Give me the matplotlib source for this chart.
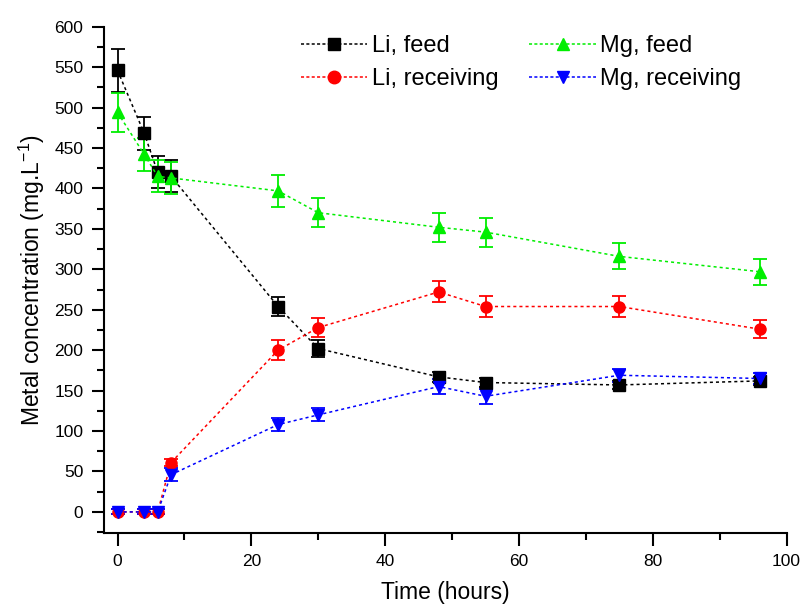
import matplotlib
matplotlib.use('Agg')
from matplotlib import pyplot as plt
from matplotlib.lines import Line2D
from matplotlib.ticker import MultipleLocator

plt.rcParams['font.family'] = ['Liberation Sans', 'DejaVu Sans']
plt.rcParams['mathtext.fontset'] = 'custom'
plt.rcParams['mathtext.rm'] = 'Liberation Sans'
plt.rcParams['mathtext.it'] = 'Liberation Sans:italic'

# sampling times (hours)
time = [0, 4, 6, 8, 24, 30, 48, 55, 75, 96]

li_feed = [546, 468, 420, 415, 254, 202, 167, 160, 157, 162]
li_feed_err = [27, 20, 20, 20, 12, 10, 6, 5, 5, 5]

mg_feed = [494, 442, 415, 413, 397, 370, 352, 346, 316, 297]
mg_feed_err = [24, 20, 20, 20, 20, 18, 18, 18, 16, 16]

li_recv = [0, 0, 0, 61, 200, 228, 272, 254, 254, 226]
li_recv_err = [3, 3, 3, 4, 12, 12, 13, 13, 13, 11]

mg_recv = [0, 0, 0, 46, 108, 120, 155, 143, 169, 165]
mg_recv_err = [3, 3, 3, 8, 8, 8, 9, 9, 8, 7]

series = [
    ('Li, feed', li_feed, li_feed_err, 'black', 's'),
    ('Li, receiving', li_recv, li_recv_err, '#ff0000', 'o'),
    ('Mg, feed', mg_feed, mg_feed_err, '#00ee00', '^'),
    ('Mg, receiving', mg_recv, mg_recv_err, '#0000ff', 'v'),
]

fig, ax = plt.subplots(figsize=(8.01, 6.07), dpi=100)
fig.subplots_adjust(left=0.130, right=0.982, bottom=0.122, top=0.956)

handles = []
for label, vals, errs, col, mk in series:
    ax.errorbar(time, vals, yerr=errs, color=col, marker=mk, markersize=8,
                linestyle=(0, (2, 2)), linewidth=1.1, ecolor=col,
                capsize=5, elinewidth=1.3, capthick=1.3)
    handles.append(Line2D([], [], color=col, marker=mk, markersize=9,
                          linestyle=(0, (2, 1.5)), linewidth=1.1, label=label))

ax.set_xlim(-2, 100)
ax.set_ylim(-26, 600)
ax.xaxis.set_major_locator(MultipleLocator(20))
ax.xaxis.set_minor_locator(MultipleLocator(10))
ax.yaxis.set_major_locator(MultipleLocator(50))
ax.yaxis.set_minor_locator(MultipleLocator(25))
ax.spines['top'].set_visible(False)
ax.spines['right'].set_visible(False)
for s in ('left', 'bottom'):
    ax.spines[s].set_linewidth(1.5)
ax.tick_params(which='major', length=9, width=1.5, labelsize=12.5, pad=6)
ax.tick_params(which='minor', length=5, width=1.5)

ax.set_xlabel('Time (hours)', fontsize=16.5, labelpad=9)
ax.set_ylabel('Metal concentration (mg.L$^{-1}$)', fontsize=16.5, labelpad=5)

# legend: left column Li, right column Mg
ax.legend(handles, [h.get_label() for h in handles], ncol=2, frameon=False,
          fontsize=17, loc='upper right', bbox_to_anchor=(0.965, 1.025),
          handlelength=2.8, columnspacing=1.3, labelspacing=0.45,
          handletextpad=0.2)

plt.savefig('out.png', dpi=100)
